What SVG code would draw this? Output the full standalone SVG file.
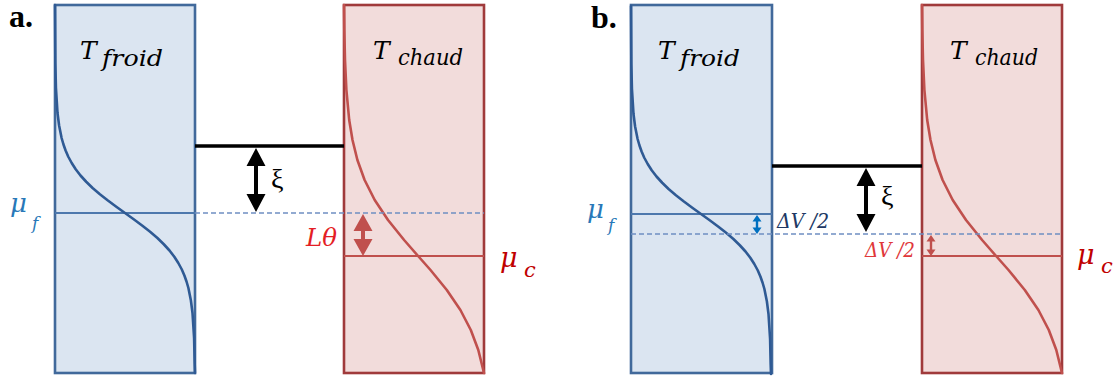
<svg xmlns="http://www.w3.org/2000/svg" xmlns:xlink="http://www.w3.org/1999/xlink" width="1115" height="380" viewBox="0 0 1115 380">
<style>
.boxB{fill:#dbe5f1;stroke:#41699b;stroke-width:2.6}
.boxR{fill:#f2dcdb;stroke:#a03a3b;stroke-width:2.6}
.curveB{fill:none;stroke:#2f5a94;stroke-width:2.6;stroke-linejoin:round;stroke-linecap:round}
.curveR{fill:none;stroke:#c0504d;stroke-width:2.6;stroke-linejoin:round;stroke-linecap:round}
.muB{stroke:#4d78ad;stroke-width:2}
.muR{stroke:#c0504d;stroke-width:2}
.dash{stroke:#6f8fc2;stroke-width:1.5;stroke-dasharray:5 3}
.band{stroke:#000;stroke-width:3.5}
.math{font-family:"DejaVu Serif","Liberation Serif",serif;font-style:italic}
.lbl{font-family:"Liberation Serif",serif;font-weight:bold;font-size:32px;fill:#000}
.xi{font-family:"Liberation Serif","DejaVu Serif",serif;font-size:28px;fill:#000}
</style>
<defs>
<polyline id="fermiB" points="0,5 0.35,63 0.94,88 2.5,113 4.1,125.5 6.6,138 8.4,144.25 10.6,150.5 13.3,156.75 16.7,163 20.7,169.25 25.5,175.5 31.2,181.75 37.6,188 44.9,194.25 52.9,200.5 61.3,206.75 70,213 78.7,219.25 87.1,225.5 95.1,231.75 102.4,238 108.8,244.25 114.5,250.5 119.3,256.75 123.3,263 126.7,269.25 129.4,275.5 131.6,281.75 133.4,288 135.9,300.5 137.5,313 139.1,338 139.65,363 140,373"/>
<polyline id="fermiR" points="0,5 0.3,30 1,60 2.4,90 5.2,120 8.5,140 13.4,160 20.6,180 30.7,200 44,220 60.1,240 74.1,256 86.5,270 102.8,290 116.4,310 126.8,330 134.3,350 140,373"/>
</defs>

<text class="lbl" x="9" y="27">a.</text>
<text class="lbl" x="591" y="28">b.</text>

<g id="a-froid">
<rect class="boxB" x="55" y="5" width="140" height="368"/>
<line class="muB" x1="55" y1="213" x2="195" y2="213"/>
<use xlink:href="#fermiB" class="curveB" transform="translate(55,0)"/>
<text class="math" x="80" y="59" font-size="25" fill="#000">T</text>
<text class="math" x="102" y="66" font-size="22" fill="#000" textLength="61" lengthAdjust="spacingAndGlyphs">froid</text>
<text class="math" x="10" y="212" font-size="26" fill="#2878b8">μ</text>
<text class="math" x="32" y="229" font-size="17" fill="#2878b8">f</text>
</g>

<g id="a-chaud">
<rect class="boxR" x="344" y="5" width="140" height="368"/>
<line class="muR" x1="344" y1="256" x2="484" y2="256"/>
<use xlink:href="#fermiR" class="curveR" transform="translate(344,0)"/>
<text class="math" x="373" y="59" font-size="25" fill="#000">T</text>
<text class="math" x="398" y="65" font-size="22" fill="#000" textLength="65" lengthAdjust="spacingAndGlyphs">chaud</text>
<text class="math" x="500" y="267" font-size="27" fill="#c00000">μ</text>
<text class="math" x="524" y="277" font-size="21" fill="#c00000">c</text>
<text class="math" x="306" y="246" font-size="24" fill="#e41e25" textLength="31" lengthAdjust="spacingAndGlyphs">Lθ</text>
</g>

<g id="b-froid">
<rect class="boxB" x="631" y="5" width="141" height="368"/>
<line class="muB" x1="631" y1="214" x2="772" y2="214"/>
<use xlink:href="#fermiB" class="curveB" transform="translate(631,1)"/>
<text class="math" x="658" y="59" font-size="25" fill="#000">T</text>
<text class="math" x="680" y="66" font-size="22" fill="#000" textLength="60" lengthAdjust="spacingAndGlyphs">froid</text>
<text class="math" x="587" y="218" font-size="26" fill="#2878b8">μ</text>
<text class="math" x="608" y="231" font-size="17" fill="#2878b8">f</text>
<text class="math" x="777" y="228" font-size="20" fill="#203864" font-style="normal" textLength="52" lengthAdjust="spacingAndGlyphs">Δ<tspan font-style="italic">V</tspan> /2</text>
</g>

<g id="b-chaud">
<rect class="boxR" x="922" y="5" width="140" height="368"/>
<line class="muR" x1="922" y1="256" x2="1062" y2="256"/>
<use xlink:href="#fermiR" class="curveR" transform="translate(922,0)"/>
<text class="math" x="950" y="59" font-size="25" fill="#000">T</text>
<text class="math" x="975" y="65" font-size="22" fill="#000" textLength="63" lengthAdjust="spacingAndGlyphs">chaud</text>
<text class="math" x="1077" y="264" font-size="27" fill="#c00000">μ</text>
<text class="math" x="1101" y="273" font-size="21" fill="#c00000">c</text>
<text class="math" x="865" y="257" font-size="20" fill="#e0383a" font-style="normal" textLength="50" lengthAdjust="spacingAndGlyphs">Δ<tspan font-style="italic">V</tspan> /2</text>
</g>

<g id="connectors">
<line class="band" x1="195" y1="146" x2="344" y2="146"/>
<line class="dash" x1="195" y1="213" x2="484" y2="213"/>
<polygon fill="#000" points="256,148 265.5,166 258,166 258,194 265.5,194 256,212 246.5,194 254,194 254,166 246.5,166"/>
<polygon fill="#c0504d" points="363,214 372.5,231 365,231 365,239 372.5,239 363,256 353.5,239 361,239 361,231 353.5,231"/>
<text class="xi" x="271" y="188">ξ</text>

<line class="band" x1="772" y1="166" x2="922" y2="166"/>
<line class="dash" x1="631" y1="234" x2="1062" y2="234"/>
<polygon fill="#000" points="866,168 875.5,186 868,186 868,214 875.5,214 866,232 856.5,214 864,214 864,186 856.5,186"/>
<polygon fill="#0070c0" points="757,215 761.5,221.5 758.2,221.5 758.2,227.5 761.5,227.5 757,234 752.5,227.5 755.8,227.5 755.8,221.5 752.5,221.5"/>
<polygon fill="#c0504d" points="931,235 935.5,241.5 932.2,241.5 932.2,249.5 935.5,249.5 931,256 926.5,249.5 929.8,249.5 929.8,241.5 926.5,241.5"/>
<text class="xi" x="881" y="205">ξ</text>
</g>
</svg>
